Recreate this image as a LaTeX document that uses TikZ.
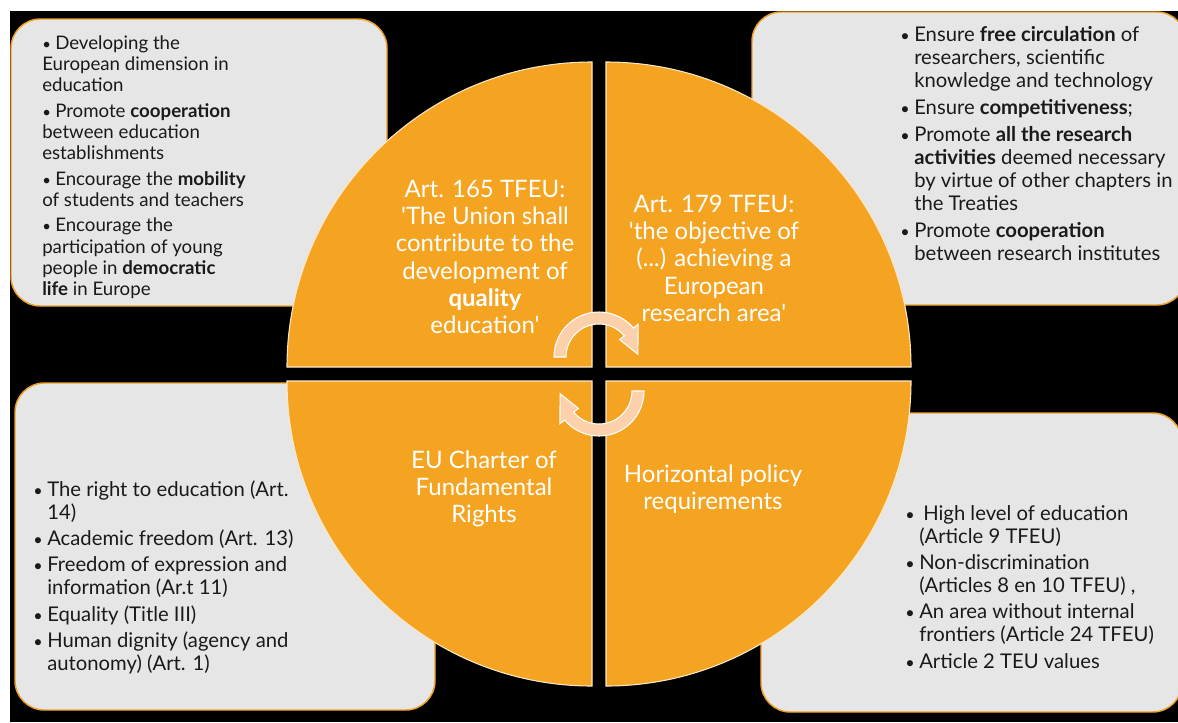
\documentclass[tikz,border=0pt]{standalone}
\usepackage{fontspec}
\setmainfont{Lato}[Ligatures=TeXOff]
\definecolor{qorange}{RGB}{245,164,34}
\definecolor{boxgrey}{RGB}{230,230,230}
\definecolor{boxline}{RGB}{240,160,40}
\definecolor{peach}{RGB}{251,208,170}
\definecolor{ink}{RGB}{26,26,26}
\newcommand\bl{\makebox[10.5pt][l]{\scalebox{0.8}{•}}}
\newcommand\blt{\makebox[9.75pt][l]{\scalebox{0.8}{•}}}
\newcommand\ind{\hspace*{10.5pt}}
\tikzset{
 panel/.style={fill=boxgrey, draw=boxline, line width=1.1pt, rounded corners=22pt},
 quad/.style={fill=qorange, draw=white!75!qorange, line width=0.8pt},
 cyc/.style={fill=peach, draw=white, line width=0.8pt},
 boxtext/.style={anchor=base west, inner sep=0pt, text=ink, font=\fontsize{15.2}{17.25}\selectfont},
 quadtext/.style={anchor=base, inner sep=0pt, text=white, font=\fontsize{18}{20.5}\selectfont},
}
\begin{document}
\begin{tikzpicture}[x=0.75pt,y=-0.75pt]
\useasboundingbox (0,0) rectangle (1178,722);
\fill[white] (0,0) rectangle (1178,722);
\fill[black] (10,11) rectangle (1178,722);
\begin{scope}
\clip (0,0) rectangle (1178,722);
\path[panel] (11,19) rectangle (387,306);
\path[panel] (752,12) rectangle (1186,305);
\path[panel] (15,383) rectangle (435,710);
\path[panel] (761,413) rectangle (1182,712);
\end{scope}
% quadrants
\path[quad] (592,367) -- (287,367) arc[start angle=180,end angle=270,radius=305] -- cycle;
\path[quad] (606,367) -- (606,62) arc[start angle=270,end angle=360,radius=305] -- cycle;
\path[quad] (592,381) -- (592,686) arc[start angle=90,end angle=180,radius=305] -- cycle;
\path[quad] (606,381) -- (911,381) arc[start angle=0,end angle=90,radius=305] -- cycle;
% cycle arrows
\begin{scope}[shift={(599,357)}]
\path[cyc] (180:45) arc[start angle=180,end angle=320,radius=45] -- (320:51) -- (356:39) -- (320:27) -- (320:33) arc[start angle=320,end angle=180,radius=33] -- cycle;
\end{scope}
\begin{scope}[shift={(599,391)}]
\path[cyc] (0:45) arc[start angle=0,end angle=140,radius=45] -- (140:51) -- (176:39) -- (140:27) -- (140:33) arc[start angle=140,end angle=0,radius=33] -- cycle;
\end{scope}
% box texts
\node[boxtext, font=\fontsize{14}{16}\selectfont] (tltext) at (42,49) {\begin{tabular}[t]{@{}l@{}}
\blt Developing the\\
European dimension in\\
education\\[3pt]
\blt Promote \textbf{cooperation}\\
between education\\
establishments\\[3pt]
\blt Encourage the \textbf{mobility}\\
of students and teachers\\[3pt]
\blt Encourage the\\
participation of young\\
people in \textbf{democratic}\\
\textbf{life} in Europe
\end{tabular}};
\node[boxtext] (trtext) at (900,41) {\begin{tabular}[t]{@{}l@{}}
\bl Ensure \textbf{free circulation} of\\
\ind researchers, scientific\\
\ind knowledge and technology\\[3pt]
\bl Ensure \textbf{competitiveness};\\[3pt]
\bl Promote \textbf{all the research}\\
\ind \textbf{activities} deemed necessary\\
\ind by virtue of other chapters in\\
\ind the Treaties\\[3pt]
\bl Promote \textbf{cooperation}\\
\ind between research institutes
\end{tabular}};
\node[boxtext] (bltext) at (33,496) {\begin{tabular}[t]{@{}l@{}}
\bl The right to education (Art.\\
\ind 14)\\[2.5pt]
\bl Academic freedom (Art. 13)\\[2.5pt]
\bl Freedom of expression and\\
\ind information (Ar.t 11)\\[2.5pt]
\bl Equality (Title III)\\[2.5pt]
\bl Human dignity (agency and\\
\ind autonomy) (Art. 1)
\end{tabular}};
\node[boxtext] (brtext) at (905,520) {\begin{tabular}[t]{@{}l@{}}
\bl\hspace*{3pt}High level of education\\
\ind (Article 9 TFEU)\\[2.5pt]
\bl Non-discrimination\\
\ind (Articles 8 en 10 TFEU) ,\\[2.5pt]
\bl An area without internal\\
\ind frontiers (Article 24 TFEU)\\[2.5pt]
\bl Article 2 TEU values
\end{tabular}};
% quadrant texts
\node[quadtext] (q1) at (485,197) {\begin{tabular}[t]{@{}c@{}}
Art. 165 TFEU:\\ 'The Union shall\\ contribute to the\\ development of\\ \textbf{quality}\\ education'
\end{tabular}};
\node[quadtext] (q2) at (714,212) {\begin{tabular}[t]{@{}c@{}}
Art. 179 TFEU:\\ 'the objective of\\ (...) achieving a\\ European\\ research area'
\end{tabular}};
\node[quadtext] (q3) at (484,468) {\begin{tabular}[t]{@{}c@{}}
EU Charter of\\ Fundamental\\ Rights
\end{tabular}};
\node[quadtext] (q4) at (713,482) {\begin{tabular}[t]{@{}c@{}}
Horizontal policy\\ requirements
\end{tabular}};
\end{tikzpicture}
\end{document}
